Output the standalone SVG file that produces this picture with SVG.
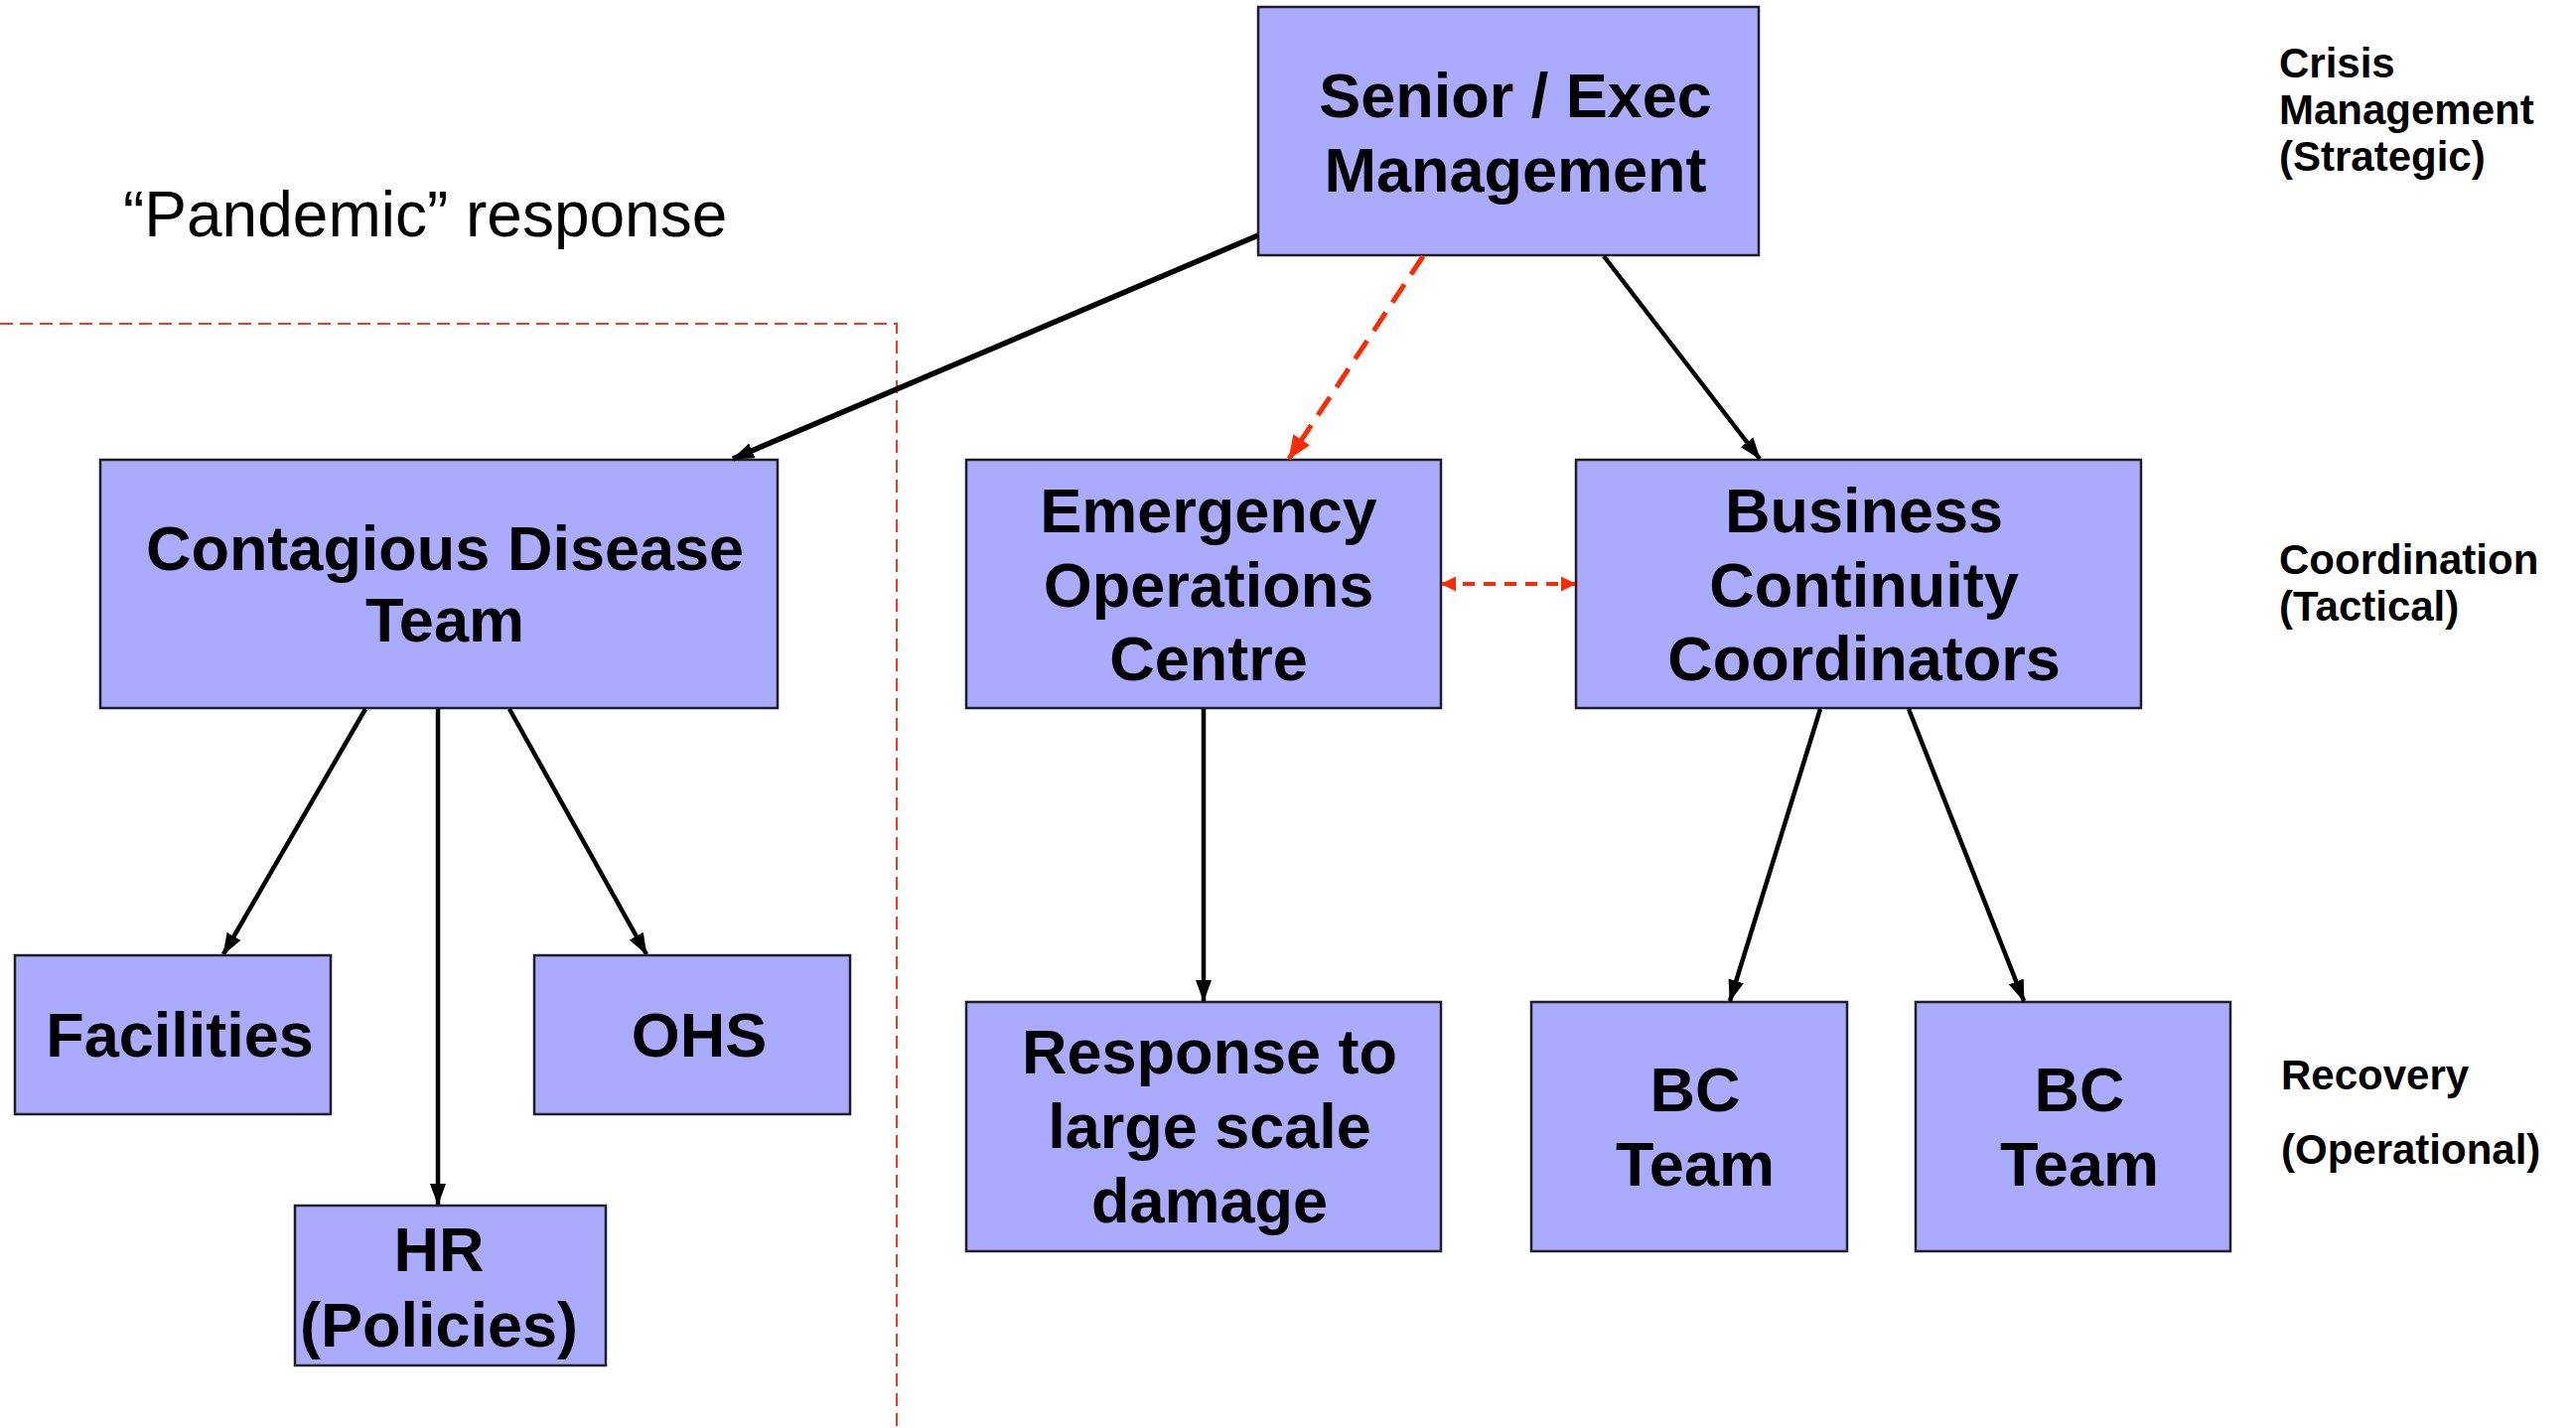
<svg xmlns="http://www.w3.org/2000/svg" width="2594" height="1438" viewBox="0 0 2594 1438">
  <style>
    .box { fill: #aaaaff; stroke: #1e1e28; stroke-width: 2.5; }
    .lbl { font-family: "Liberation Sans", Arial, sans-serif; font-weight: bold; font-size: 63px; fill: #000; text-anchor: middle; }
    .tier { font-family: "Liberation Sans", Arial, sans-serif; font-weight: bold; font-size: 42px; fill: #000; }
    .title { font-family: "Liberation Sans", Arial, sans-serif; font-size: 64px; fill: #000; }
    .link { fill: none; stroke: #000; stroke-width: 4.5; marker-end: url(#arrow); }
    .dash { fill: none; stroke: #ff2a00; stroke-width: 5; stroke-dasharray: 22 12; marker-end: url(#arrowRed); }
    .peer { fill: none; stroke: #ff2a00; stroke-width: 4; stroke-dasharray: 12 9; marker-start: url(#arrowRedS); marker-end: url(#arrowRedS); }
    .zone { fill: none; stroke: #f03c1e; stroke-width: 2; stroke-dasharray: 13 7; }
  </style>
  <defs>
    <marker id="arrow" viewBox="0 0 22 16" refX="21" refY="8" markerWidth="22" markerHeight="16" markerUnits="userSpaceOnUse" orient="auto">
      <path d="M0,0 L22,8 L0,16 Z" fill="#000"/>
    </marker>
    <marker id="arrowRed" viewBox="0 0 24 20" refX="23" refY="10" markerWidth="24" markerHeight="20" markerUnits="userSpaceOnUse" orient="auto">
      <path d="M0,0 L24,10 L0,20 Z" fill="#ff2a00"/>
    </marker>
    <marker id="arrowRedS" viewBox="0 0 15 15" refX="14" refY="7.5" markerWidth="15" markerHeight="15" markerUnits="userSpaceOnUse" orient="auto-start-reverse">
      <path d="M0,0 L15,7.5 L0,15 Z" fill="#ff2a00"/>
    </marker>
  </defs>

  <rect width="2594" height="1438" fill="#fff"/>

  <!-- boundary of the pandemic response area -->
  <g id="pandemic-zone">
    <path class="zone" d="M0,326 H903 V1438"/>
    <text class="title" x="124" y="238">“Pandemic” response</text>
  </g>

  <!-- tier labels on the right -->
  <g id="tier-strategic">
    <text class="tier" x="2295" y="78">Crisis</text>
    <text class="tier" x="2295" y="125">Management</text>
    <text class="tier" x="2295" y="172">(Strategic)</text>
  </g>
  <g id="tier-tactical">
    <text class="tier" x="2295" y="578">Coordination</text>
    <text class="tier" x="2295" y="625">(Tactical)</text>
  </g>
  <g id="tier-operational">
    <text class="tier" x="2297" y="1097">Recovery</text>
    <text class="tier" x="2297" y="1172">(Operational)</text>
  </g>

  <!-- nodes -->
  <g id="senior-exec">
    <rect class="box" x="1267" y="7" width="504" height="250"/>
    <text class="lbl" x="1526" y="118">Senior / Exec</text>
    <text class="lbl" x="1526" y="193">Management</text>
  </g>
  <g id="contagious-disease-team">
    <rect class="box" x="101" y="463" width="682" height="250"/>
    <text class="lbl" x="448" y="574">Contagious Disease</text>
    <text class="lbl" x="448" y="646">Team</text>
  </g>
  <g id="eoc">
    <rect class="box" x="973" y="463" width="478" height="250"/>
    <text class="lbl" x="1217" y="536">Emergency</text>
    <text class="lbl" x="1217" y="611">Operations</text>
    <text class="lbl" x="1217" y="685">Centre</text>
  </g>
  <g id="bc-coordinators">
    <rect class="box" x="1587" y="463" width="569" height="250"/>
    <text class="lbl" x="1877" y="536">Business</text>
    <text class="lbl" x="1877" y="611">Continuity</text>
    <text class="lbl" x="1877" y="685">Coordinators</text>
  </g>
  <g id="facilities">
    <rect class="box" x="15" y="962" width="318" height="160"/>
    <text class="lbl" x="181" y="1064">Facilities</text>
  </g>
  <g id="ohs">
    <rect class="box" x="538" y="962" width="318" height="160"/>
    <text class="lbl" x="704" y="1064">OHS</text>
  </g>
  <g id="hr">
    <rect class="box" x="297" y="1214" width="313" height="161"/>
    <text class="lbl" x="442" y="1280">HR</text>
    <text class="lbl" x="442" y="1356">(Policies)</text>
  </g>
  <g id="large-scale-damage">
    <rect class="box" x="973" y="1009" width="478" height="251"/>
    <text class="lbl" x="1218" y="1081">Response to</text>
    <text class="lbl" x="1218" y="1156">large scale</text>
    <text class="lbl" x="1218" y="1231">damage</text>
  </g>
  <g id="bc-team-1">
    <rect class="box" x="1542" y="1009" width="318" height="251"/>
    <text class="lbl" x="1707" y="1119">BC</text>
    <text class="lbl" x="1707" y="1194">Team</text>
  </g>
  <g id="bc-team-2">
    <rect class="box" x="1929" y="1009" width="317" height="251"/>
    <text class="lbl" x="2094" y="1119">BC</text>
    <text class="lbl" x="2094" y="1194">Team</text>
  </g>

  <!-- connectors -->
  <g id="connectors">
    <path class="link" style="stroke-width:5.5" d="M1267,237 L738,462"/>
    <path class="dash" d="M1433,258 L1298,462"/>
    <path class="link" d="M1615,258 L1772,462"/>
    <path class="peer" d="M1452,588 L1586,588"/>
    <path class="link" d="M368,714 L225,961"/>
    <path class="link" d="M441,714 L441,1213"/>
    <path class="link" d="M513,714 L651,961"/>
    <path class="link" d="M1212,714 L1212,1008"/>
    <path class="link" d="M1833,714 L1742,1008"/>
    <path class="link" d="M1922,714 L2038,1008"/>
  </g>
</svg>
